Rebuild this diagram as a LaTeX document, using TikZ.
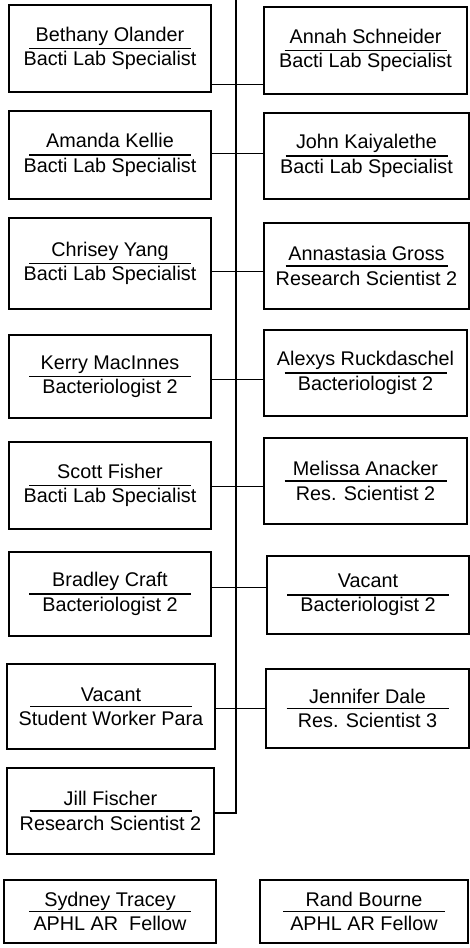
\documentclass[tikz,border=0pt]{standalone}
\usepackage{fontspec}
\setmainfont{Liberation Sans}
\usepackage{tikz}
\usetikzlibrary{positioning,calc}
\tikzset{
  staff/.style={draw=black, line width=0.65pt, rectangle, inner sep=0pt, outer sep=0pt,
                align=center, font=\fontsize{9.9}{12.2}\selectfont,
                path picture={\draw[line width=0.6pt]
                  ([xshift=-40.5pt]path picture bounding box.center) --
                  ([xshift=40.5pt]path picture bounding box.center);}},
  link/.style={black, line width=0.5pt},
  spine/.style={black, line width=0.6pt},
}

\begin{document}
\begin{tikzpicture}[x=0.5pt, y=-0.5pt]
  \useasboundingbox (0,0) rectangle (470,948);
  % left column
  \node[staff, minimum width=101pt, minimum height=43.5pt] (bethany) at (110,48.5) {Bethany Olander\\Bacti Lab Specialist};
  \node[staff, minimum width=101pt, minimum height=44pt] (amanda) at (110,155) {Amanda Kellie\\Bacti Lab Specialist};
  \node[staff, minimum width=101pt, minimum height=45.5pt] (chrisey) at (110,263.5) {Chrisey Yang\\Bacti Lab Specialist};
  \node[staff, minimum width=101pt, minimum height=41.5pt] (kerry) at (110,376.5) {Kerry MacInnes\\Bacteriologist 2};
  \node[staff, minimum width=101pt, minimum height=43.5pt] (scott) at (110,485.5) {Scott Fisher\\Bacti Lab Specialist};
  \node[staff, minimum width=101pt, minimum height=42pt] (bradley) at (110,594) {Bradley Craft\\Bacteriologist 2};
  \node[staff, minimum width=104pt, minimum height=42.5pt] (student) at (111,706.5) {Vacant\\Student Worker Para};
  \node[staff, minimum width=103.5pt, minimum height=43pt] (jill) at (110.5,811) {Jill Fischer\\Research Scientist 2};
  % right column
  \node[staff, minimum width=101.5pt, minimum height=43.5pt] (annah) at (365.5,50.5) {Annah Schneider\\Bacti Lab Specialist};
  \node[staff, minimum width=102.5pt, minimum height=43pt] (john) at (366.5,156) {John Kaiyalethe\\Bacti Lab Specialist};
  \node[staff, minimum width=102.5pt, minimum height=43pt] (annastasia) at (366.5,266) {Annastasia Gross\\Research Scientist 2};
  \node[staff, minimum width=101.5pt, minimum height=43pt] (alexys) at (365.5,373) {Alexys Ruckdaschel\\Bacteriologist 2};
  \node[staff, minimum width=101.5pt, minimum height=43pt] (melissa) at (365.5,481) {Melissa Anacker\\Res. Scientist 2};
  \node[staff, minimum width=101pt, minimum height=39pt] (vacantbac) at (368,595) {Vacant\\Bacteriologist 2};
  \node[staff, minimum width=101.5pt, minimum height=39.5pt] (jennifer) at (367.5,708.5) {Jennifer Dale\\Res. Scientist 3};
  % fellows
  \node[staff, minimum width=106pt, minimum height=31.5pt] (sydney) at (110,911.5) {Sydney Tracey\\APHL AR~~Fellow};
  \node[staff, minimum width=104pt, minimum height=31.5pt] (rand) at (364,911.5) {Rand Bourne\\APHL AR Fellow};

  % spine and branches
  \coordinate (top) at (236,0);
  \coordinate (j1) at (236,84);
  \coordinate (j2) at (236,153);
  \coordinate (j3) at (236,271);
  \coordinate (j4) at (236,379);
  \coordinate (j5) at (236,486);
  \coordinate (j6) at (236,587);
  \coordinate (j7) at (236,708);
  \coordinate (j8) at (236,813);
  \draw[spine] (top) -- (j8) -- (jill.east |- j8);
  \draw[link] (bethany.east |- j1) -- (annah.west |- j1);
  \draw[link] (amanda.east |- j2) -- (john.west |- j2);
  \draw[link] (chrisey.east |- j3) -- (annastasia.west |- j3);
  \draw[link] (kerry.east |- j4) -- (alexys.west |- j4);
  \draw[link] (scott.east |- j5) -- (melissa.west |- j5);
  \draw[link] (bradley.east |- j6) -- (vacantbac.west |- j6);
  \draw[link] (student.east |- j7) -- (jennifer.west |- j7);
\end{tikzpicture}
\end{document}
